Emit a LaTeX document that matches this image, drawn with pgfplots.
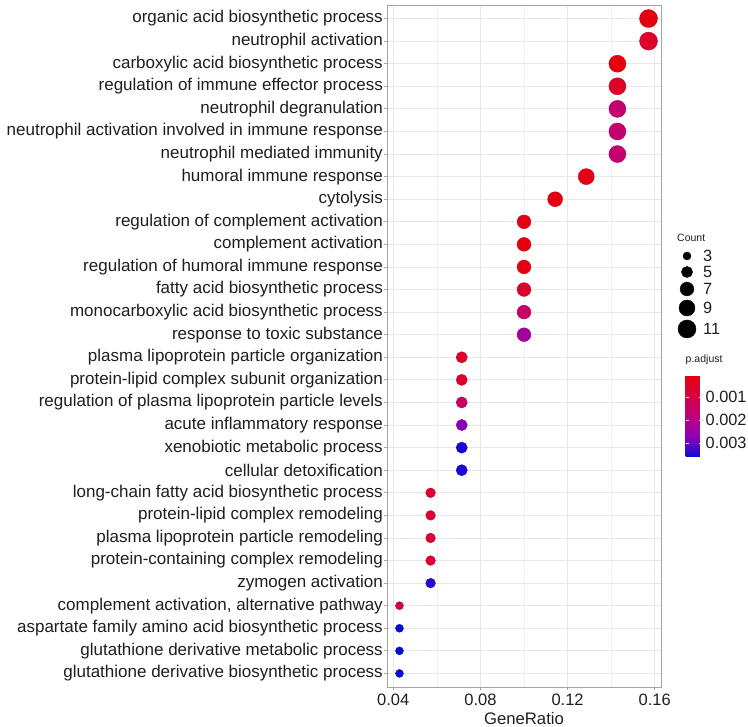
\documentclass[border=0pt]{standalone}
\usepackage{pgfplots}
\pgfplotsset{compat=1.18}
\usepackage{pgfplotstable}
\usepackage{fontspec}
\setmainfont{Liberation Sans}
\definecolor{gridc}{RGB}{232,232,232}
\definecolor{gridm}{RGB}{242,242,242}
\definecolor{framec}{RGB}{165,165,165}
\definecolor{txt}{RGB}{30,30,30}
\pgfplotsset{colormap={padj}{rgb255=(230,0,12) rgb255=(215,0,65) rgb255=(188,0,125) rgb255=(145,0,180) rgb255=(10,10,215)}}
\pgfplotstableread{
idx ratio count p
1 0.15714 11 0.0001
2 0.15714 11 0.0006
3 0.14286 10 0.0001
4 0.14286 10 0.0005
5 0.14286 10 0.0016
6 0.14286 10 0.0016
7 0.14286 10 0.0016
8 0.12857 9 0.0002
9 0.11429 8 0.0001
10 0.10000 7 0.0001
11 0.10000 7 0.0001
12 0.10000 7 0.0001
13 0.10000 7 0.0006
14 0.10000 7 0.0015
15 0.10000 7 0.0023
16 0.07143 5 0.0006
17 0.07143 5 0.0006
18 0.07143 5 0.0014
19 0.07143 5 0.0028
20 0.07143 5 0.0035
21 0.07143 5 0.0035
22 0.05714 4 0.0007
23 0.05714 4 0.0007
24 0.05714 4 0.0007
25 0.05714 4 0.0007
26 0.05714 4 0.0034
27 0.04286 3 0.0013
28 0.04286 3 0.0036
29 0.04286 3 0.0036
30 0.04286 3 0.0036
}\godata
\begin{document}
\begin{tikzpicture}
\useasboundingbox (0,0) rectangle (748pt,727pt);
\begin{axis}[
  at={(387pt,40pt)}, anchor=south west,
  scale only axis, width=274pt, height=682pt,
  xmin=0.03714, xmax=0.16286,
  ymin=0.4, ymax=30.6, y dir=reverse,
  xtick={0.04,0.08,0.12,0.16},
  xticklabels={0.04,0.08,0.12,0.16},
  minor xtick={0.06,0.10,0.14},
  ytick={1,...,30},
  yticklabels={organic acid biosynthetic process,neutrophil activation,carboxylic acid biosynthetic process,regulation of immune effector process,neutrophil degranulation,neutrophil activation involved in immune response,neutrophil mediated immunity,humoral immune response,cytolysis,regulation of complement activation,complement activation,regulation of humoral immune response,fatty acid biosynthetic process,monocarboxylic acid biosynthetic process,response to toxic substance,plasma lipoprotein particle organization,protein-lipid complex subunit organization,regulation of plasma lipoprotein particle levels,acute inflammatory response,xenobiotic metabolic process,cellular detoxification,long-chain fatty acid biosynthetic process,protein-lipid complex remodeling,plasma lipoprotein particle remodeling,protein-containing complex remodeling,zymogen activation,{complement activation, alternative pathway},aspartate family amino acid biosynthetic process,glutathione derivative metabolic process,glutathione derivative biosynthetic process},
  grid=both,
  major grid style={gridc, line width=0.9pt},
  minor grid style={gridm, line width=0.5pt},
  axis line style={framec, line width=0.9pt},
  tick style={framec, line width=0.9pt},
  tick align=outside,
  major tick length=3pt,
  minor tick length=0pt,
  xtick pos=lower, ytick pos=left,
  yticklabel style={font=\fontsize{17}{19}\selectfont, text=txt, inner sep=0pt, xshift=-1pt},
  xticklabel style={font=\fontsize{16.5}{18}\selectfont, text=txt, inner sep=0pt, yshift=-4pt},
  xlabel={GeneRatio},
  xlabel style={font=\fontsize{16.7}{18}\selectfont, text=txt, inner sep=0pt, yshift=-6pt},
  colormap name=padj,
  point meta min=0.00004, point meta max=0.0036,
  colorbar,
  colorbar style={
    at={(parent axis.south east)}, anchor=south west, xshift=16pt, yshift=230pt,
    scale only axis, width=16pt, height=82pt,
    y dir=reverse,
    ytick={0.001,0.002,0.003},
    yticklabels={0.001,0.002,0.003},
    scaled y ticks=false,
    yticklabel pos=right,
    yticklabel style={font=\fontsize{16.3}{18}\selectfont, text=txt, inner sep=0pt, xshift=4pt},
    separate axis lines,
    axis line style={draw=none},
    every outer x axis line/.style={draw=none},
    every outer y axis line/.style={draw=none},
    tick style={white, line width=0.6pt},
    major tick length=3pt,
    tick align=inside,
    title={p.adjust},
    title style={at={(0,1)}, anchor=south west, font=\fontsize{10.5}{12}\selectfont, text=txt, inner sep=0pt, yshift=4pt},
  },
]
\addplot[scatter, only marks, mark=*,
  scatter src=explicit,
  scatter/use mapped color={draw=mapped color!90!black, fill=mapped color},
  visualization depends on={\thisrow{count} \as \cnt},
  scatter/@pre marker code/.append style={/tikz/mark size={4+3.15*(sqrt(\cnt)-1.732)}},
] table[x=ratio, y=idx, meta=p] {\godata};
\end{axis}
\begin{axis}[
  at={(667pt,387pt)}, anchor=south west,
  scale only axis, width=80pt, height=110pt,
  xmin=667, xmax=747, ymin=230, ymax=340, y dir=reverse,
  hide axis, clip=false,
]
\addplot[only marks, mark=*, black, mark size=4pt] coordinates {(687,256)};
\addplot[only marks, mark=*, black, mark size=5.6pt] coordinates {(687,272)};
\addplot[only marks, mark=*, black, mark size=6.9pt] coordinates {(687,289)};
\addplot[only marks, mark=*, black, mark size=8pt] coordinates {(687,308)};
\addplot[only marks, mark=*, black, mark size=9pt] coordinates {(687,329)};
\node[anchor=west, inner sep=0pt, font=\fontsize{10.5}{12}\selectfont, text=txt] at (axis cs:677,238) {Count};
\node[anchor=west, inner sep=0pt, font=\fontsize{16.3}{18}\selectfont, text=txt] at (axis cs:703,256) {3};
\node[anchor=west, inner sep=0pt, font=\fontsize{16.3}{18}\selectfont, text=txt] at (axis cs:703,272) {5};
\node[anchor=west, inner sep=0pt, font=\fontsize{16.3}{18}\selectfont, text=txt] at (axis cs:703,289) {7};
\node[anchor=west, inner sep=0pt, font=\fontsize{16.3}{18}\selectfont, text=txt] at (axis cs:703,308) {9};
\node[anchor=west, inner sep=0pt, font=\fontsize{16.3}{18}\selectfont, text=txt] at (axis cs:703,329) {11};
\end{axis}
\end{tikzpicture}
\end{document}
